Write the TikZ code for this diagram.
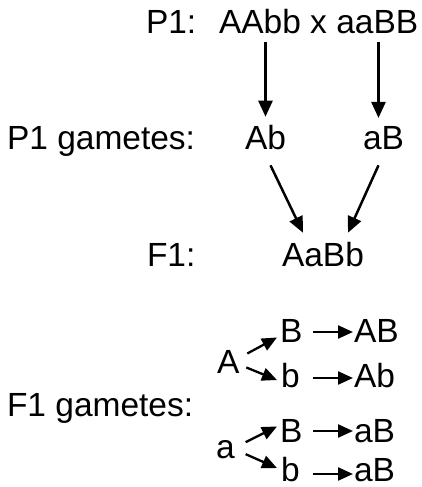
\documentclass[tikz,border=0pt]{standalone}
\usepackage{fontspec}
\setmainfont{Liberation Sans}
\usetikzlibrary{arrows.meta,calc}
\begin{document}
\begin{tikzpicture}[x=1pt,y=-1pt,
  lbl/.style={inner sep=0pt,outer sep=0pt,anchor=base west,font=\fontsize{33.5}{40}\selectfont},
  bigarr/.style={line width=2.5pt,-{Triangle[length=16pt,width=14pt]}},
  smallarr/.style={line width=2.3pt,-{Triangle[length=15pt,width=13pt]}}]
\useasboundingbox (0,0) rectangle (421,487);
% labels
\node[lbl] (p1) at (146,34) {P1:};
\node[lbl] (cross) at (219,34) {AAbb x aaBB};
\node[lbl] (p1g) at (7,149) {P1 gametes:};
\node[lbl] (gAb) at (245,149) {Ab};
\node[lbl] (gaB) at (363,149) {aB};
\node[lbl] (f1) at (147,266) {F1:};
\node[lbl] (f1geno) at (282,266) {AaBb};
\node[lbl] (f1g) at (7,416) {F1 gametes:};
\node[lbl] (A) at (217,373) {A};
\node[lbl] (a) at (216,458) {a};
\node[lbl] (B1) at (280,342) {B};
\node[lbl] (b1) at (281,387) {b};
\node[lbl] (B2) at (280,442) {B};
\node[lbl] (b2) at (281,481) {b};
\node[lbl] (r1) at (354,342) {AB};
\node[lbl] (r2) at (354,387) {Ab};
\node[lbl] (r3) at (354,442) {aB};
\node[lbl] (r4) at (354,481) {aB};
% P1 -> gametes
\draw[bigarr, shorten <=8pt, shorten >=8pt] (gAb.north |- cross.south) -- (gAb.north);
\draw[bigarr, shorten <=8pt, shorten >=8pt] ([xshift=-5pt]gaB.north |- cross.south) -- ([xshift=-5pt]gaB.north);
% gametes -> F1
\draw[bigarr] ($(gAb.south)+(5,16)$) -- ($(f1geno.north)+(-20,-9)$);
\draw[bigarr] ($(gaB.south)+(-5,16)$) -- ($(f1geno.north)+(25,-9)$);
% F1 gametes tree
\draw[smallarr] ($(A.east)+(8,-8)$) -- ($(B1.west)+(-3,7)$);
\draw[smallarr] ($(A.east)+(7,6)$) -- ($(b1.west)+(-4,5)$);
\draw[smallarr] ($(a.east)+(11,-7)$) -- ($(B2.west)+(-3,-4)$);
\draw[smallarr] ($(a.east)+(11,5)$) -- ($(b2.west)+(-4,-1)$);
\draw[smallarr] ($(B1.base east)+(11,-10)$) -- ($(r1.base west)+(-1,-10)$);
\draw[smallarr] ($(b1.base east)+(13,-9)$) -- ($(r2.base west)+(-1,-9)$);
\draw[smallarr] ($(B2.base east)+(11,-11)$) -- ($(r3.base west)+(-1,-11)$);
\draw[smallarr] ($(b2.base east)+(13,-7)$) -- ($(r4.base west)+(-1,-7)$);
\end{tikzpicture}
\end{document}
